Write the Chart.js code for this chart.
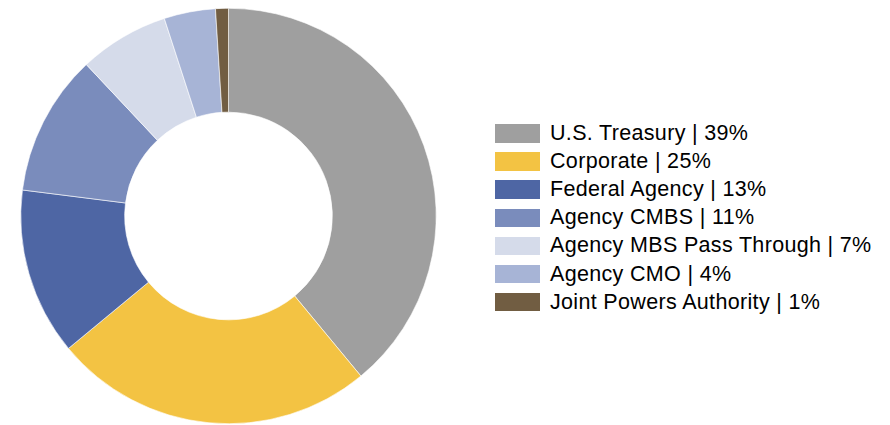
<!DOCTYPE html>
<html>
<head>
<meta charset="utf-8">
<script src="https://cdn.jsdelivr.net/npm/chart.js@4/dist/chart.umd.min.js"></script>
<style>
  html, body { margin: 0; padding: 0; background: #fff; }
  #wrap { position: relative; width: 890px; height: 425px; overflow: hidden; }
  #chartBox { position: absolute; left: 0; top: 0; width: 457px; height: 425px; }
  #legend { position: absolute; left: 495px; top: 119.5px; font-family: "Liberation Sans", Arial, sans-serif; font-size: 21.5px; letter-spacing: 0.33px; color: #000; }
  .row { display: flex; align-items: center; height: 28.1px; white-space: nowrap; }
  .sw { width: 45px; height: 18.5px; margin-right: 10px; flex: none; }
</style>
</head>
<body>
<div id="wrap">
  <div id="chartBox"><canvas id="c"></canvas></div>
  <div id="legend"></div>
</div>
<script>
// Portfolio allocation by sector (percent of total)
const categories = [
  "U.S. Treasury",
  "Corporate",
  "Federal Agency",
  "Agency CMBS",
  "Agency MBS Pass Through",
  "Agency CMO",
  "Joint Powers Authority"
];
const shares = [39, 25, 13, 11, 7, 4, 1];
const sliceColors = ["#9F9F9F", "#F3C343", "#4E66A4", "#7A8CBC", "#D5DBEA", "#A7B4D6", "#715D42"];

new Chart(document.getElementById("c"), {
  type: "doughnut",
  data: {
    labels: categories,
    datasets: [{
      data: shares,
      backgroundColor: sliceColors,
      borderColor: "#ffffff",
      borderWidth: 0.6,
      hoverOffset: 0
    }]
  },
  options: {
    responsive: true,
    maintainAspectRatio: false,
    animation: false,
    cutout: "50%",
    layout: { padding: { top: 8, bottom: 1, left: 0, right: 0 } },
    plugins: {
      legend: { display: false },
      tooltip: { enabled: false }
    }
  }
});

// Legend list built from the same arrays
const legend = document.getElementById("legend");
categories.forEach((name, i) => {
  const row = document.createElement("div");
  row.className = "row";
  const sw = document.createElement("span");
  sw.className = "sw";
  sw.style.background = sliceColors[i];
  const txt = document.createElement("span");
  txt.textContent = name + " | " + shares[i] + "%";
  row.appendChild(sw);
  row.appendChild(txt);
  legend.appendChild(row);
});
</script>
</body>
</html>
